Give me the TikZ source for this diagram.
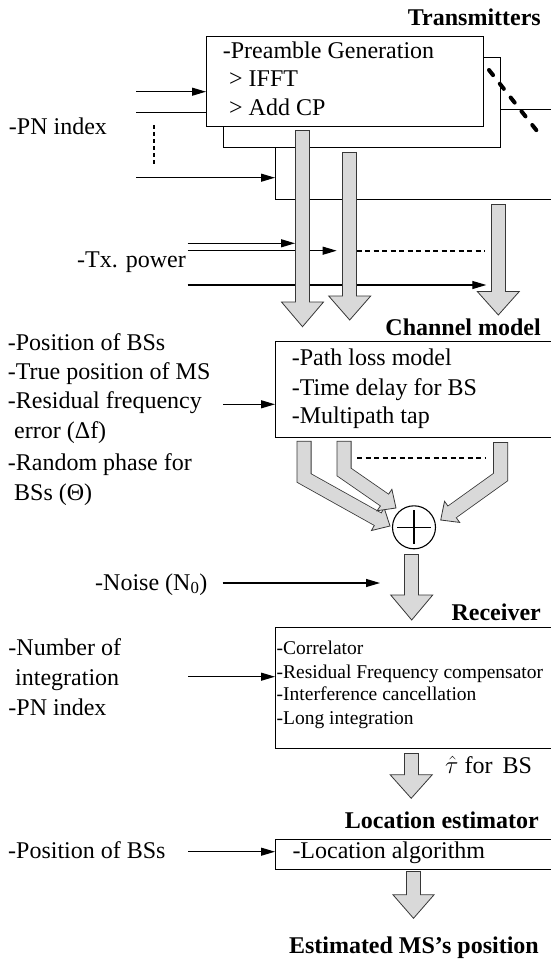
\documentclass[tikz,border=0pt]{standalone}
\usepackage{fontspec}
\setmainfont{Liberation Serif}
\usetikzlibrary{arrows.meta,calc}
\definecolor{gfill}{RGB}{217,217,217}
\definecolor{gline}{RGB}{55,55,55}
\tikzset{
 lt/.style={inner sep=0pt, anchor=base west, font=\fontsize{24}{28}\selectfont},
 ttl/.style={inner sep=0pt, anchor=base east, font=\fontsize{24}{28}\selectfont\bfseries},
 st/.style={inner sep=0pt, anchor=base west, font=\fontsize{19.5}{23}\selectfont},
 boxx/.style={draw, line width=1.1pt, fill=white, inner sep=0pt, anchor=north west},
 inarrow/.style={line width=1.1pt, -{Triangle[length=14pt,width=8pt]}},
 dotl/.style={line width=1.7pt, dash pattern=on 5pt off 3.5pt},
}
% #1 id, #2 start, #3 bend, #4 tip, #5 head length, #6 head half width
\newcommand\barrow[6]{%
  \coordinate (#1b) at ($(#4)!#5!(#3)$);
  \draw[line width=15pt, draw=gline, line join=miter] ($(#2)+(0,-0.8)$) -- (#3) -- (#1b);
  \filldraw[fill=gfill, draw=gline, line width=0.8pt, line join=miter] (#4) -- ($(#1b)!#6!90:(#4)$) -- ($(#1b)!#6!-90:(#4)$) -- cycle;
  \draw[line width=13.4pt, draw=gfill, line join=miter] (#2) -- (#3) -- ($(#1b)!1.2pt!(#4)$);
}
\begin{document}
\begin{tikzpicture}[x=1pt,y=-1pt]
\useasboundingbox (0,0) rectangle (551,963);

% ---------- Transmitters ----------
\node[ttl] (ttx) at (541,25.3) {Transmitters};
\node[boxx, minimum width=275.5pt, minimum height=89.5pt] (tx3) at (275,109) {};
\node[boxx, minimum width=277pt, minimum height=89.8pt] (tx2) at (223,56.7) {};
\coordinate (pn1) at (136,91.7);
\coordinate (pn2) at (136,112.3);
\coordinate (pn3) at (136,177.7);
\draw[inarrow] (pn3) -- (pn3 -| tx3.west);
\draw[inarrow] (pn2) -- (pn2 -| tx2.west);
\node[boxx, minimum width=277pt, minimum height=89.7pt] (tx1) at (206,36) {};
\draw[inarrow] (pn1) -- (pn1 -| tx1.west);
\coordinate (pd1) at (154,125);
\coordinate (pd2) at (154,165);
\draw[line width=1.6pt, dash pattern=on 4pt off 3pt] (pd1) -- (pd2);
\coordinate (dd1) at (489,70);
\coordinate (dd2) at (542.5,138);
\draw[line width=4pt, line cap=round, dash pattern=on 6.5pt off 11pt] (dd1) -- (dd2);
\node[lt] (t11) at (222.7,58.7) {-Preamble Generation};
\node[lt] (t12) at (229,87) {> IFFT};
\node[lt] (t13) at (229,115.3) {> Add CP};
\node[lt] (lpn) at (8.8,134.7) {-PN index};

% ---------- Tx power ----------
\node[lt] (ltp) at (77,267) {-Tx. power};
\coordinate (a1s) at (302.5,131);
\coordinate (a1m) at (302.5,200);
\coordinate (a1t) at (302.5,326.7);
\coordinate (a2s) at (349.7,152.7);
\coordinate (a2m) at (349.7,220);
\coordinate (a2t) at (349.7,320);
\coordinate (a3s) at (498.3,205);
\coordinate (a3m) at (498.3,250);
\coordinate (a3t) at (498.3,315);
\coordinate (tp1) at (187.5,243.3);
\coordinate (tp2) at (187.5,250.7);
\coordinate (tp3) at (187.5,285);
\draw[inarrow] (tp1) -- ($(tp1 -| a1s)+(-7.5,0)$);
\draw[inarrow] (tp2) -- ($(tp2 -| a2s)+(-13,0)$);
\draw[dotl] ($(tp2 -| a2s)+(7,0)$) -- ($(tp2 -| a3s)+(-13,0)$);
\draw[inarrow] (tp3) -- ($(tp3 -| a3s)+(-12,0)$);
\barrow{a1}{a1s}{a1m}{a1t}{24.7pt}{21pt}
\barrow{a2}{a2s}{a2m}{a2t}{24pt}{21pt}
\barrow{a3}{a3s}{a3m}{a3t}{23.5pt}{21pt}

% ---------- Channel model ----------
\node[ttl] (tch) at (541,335.3) {Channel model};
\node[boxx, minimum width=275.5pt, minimum height=96pt] (ch) at (275,340.7) {};
\node[lt] (c1) at (291.6,365.3) {-Path loss model};
\node[lt] (c2) at (291.6,395.3) {-Time delay for BS};
\node[lt] (c3) at (291.6,423.7) {-Multipath tap};
\node[lt] (l1) at (7.7,350.3) {-Position of BSs};
\node[lt] (l2) at (7.7,379.7) {-True position of MS};
\node[lt] (l3) at (7.7,408.7) {-Residual frequency};
\node[lt] (l4) at (14,438.7) {error (\symbol{"0394}f)};
\node[lt] (l5) at (7.7,470.3) {-Random phase for};
\node[lt] (l6) at (14,500.3) {BSs (\symbol{"0398})};
\coordinate (chin) at (223,404.3);
\draw[inarrow] (chin) -- (chin -| ch.west);

% ---------- sum ----------
\node[draw, circle, line width=1.1pt, minimum size=43pt, inner sep=0pt] (sum) at (414,527.3) {};
\draw[line width=1.1pt] ($(sum.center)+(-17,0)$) -- ($(sum.center)+(17,0)$);
\draw[line width=1.1pt] ($(sum.center)+(0,-17)$) -- ($(sum.center)+(0,17)$);
\coordinate (bAs) at (304,441.7);
\coordinate (bAm) at (304,478);
\coordinate (bAt) at (390,526);
\coordinate (bBs) at (344,441.7);
\coordinate (bBm) at (344,472);
\coordinate (bBt) at (396,508);
\coordinate (bCs) at (500.7,443);
\coordinate (bCm) at (500.7,477);
\coordinate (bCt) at (440.7,520);
\barrow{bA}{bAs}{bAm}{bAt}{14pt}{13pt}
\barrow{bB}{bBs}{bBm}{bBt}{14pt}{13pt}
\barrow{bC}{bCs}{bCm}{bCt}{14pt}{13pt}
\coordinate (dt1) at (357,457.7);
\coordinate (dt2) at (485,457.7);
\draw[dotl] (dt1) -- (dt2);

% ---------- noise ----------
\node[lt] (nz) at (95,590) {-Noise (N\textsubscript{0})};
\coordinate (nzs) at (222.7,583);
\coordinate (nze) at (380,583);
\draw[inarrow] (nzs) -- (nze);
\coordinate (d1s) at (411.7,555);
\coordinate (d1m) at (411.7,580);
\coordinate (d1t) at (411.7,620);
\barrow{d1}{d1s}{d1m}{d1t}{25pt}{21pt}

% ---------- Receiver ----------
\node[ttl] (trx) at (541,620.3) {Receiver};
\node[boxx, minimum width=275.5pt, minimum height=120.4pt] (rx) at (275,627.3) {};
\node[st] (r1) at (276.5,654) {-Correlator};
\node[st] (r2) at (276.5,678.2) {-Residual Frequency compensator};
\node[st] (r3) at (276.5,700.7) {-Interference cancellation};
\node[st] (r4) at (276.5,724) {-Long integration};
\node[lt] (n1) at (8.3,655.3) {-Number of};
\node[lt] (n2) at (15,685.3) {integration};
\node[lt] (n3) at (8.3,715.3) {-PN index};
\coordinate (rxin) at (188.3,676.7);
\draw[inarrow] (rxin) -- (rxin -| rx.west);
\coordinate (d2s) at (411.2,754);
\coordinate (d2m) at (411.2,765);
\coordinate (d2t) at (411.2,798.3);
\barrow{d2}{d2s}{d2m}{d2t}{23.5pt}{21pt}
\node[lt] (tau) at (445,773.7) {$\hat{\tau}$ for\, BS};

% ---------- Location estimator ----------
\node[ttl] (tle) at (539,828.7) {Location estimator};
\node[boxx, minimum width=275.5pt, minimum height=30pt] (le) at (275,839) {};
\node[lt] (le1) at (292.3,858.7) {-Location algorithm};
\node[lt] (p1) at (8,858.7) {-Position of BSs};
\coordinate (lein) at (188,851.7);
\draw[inarrow] (lein) -- (lein -| le.west);
\coordinate (d3s) at (413.5,871.7);
\coordinate (d3m) at (413.5,885);
\coordinate (d3t) at (413.5,918.3);
\barrow{d3}{d3s}{d3m}{d3t}{23.5pt}{20.5pt}
\node[ttl] (est) at (539,953.5) {Estimated MS’s position};
\end{tikzpicture}
\end{document}
